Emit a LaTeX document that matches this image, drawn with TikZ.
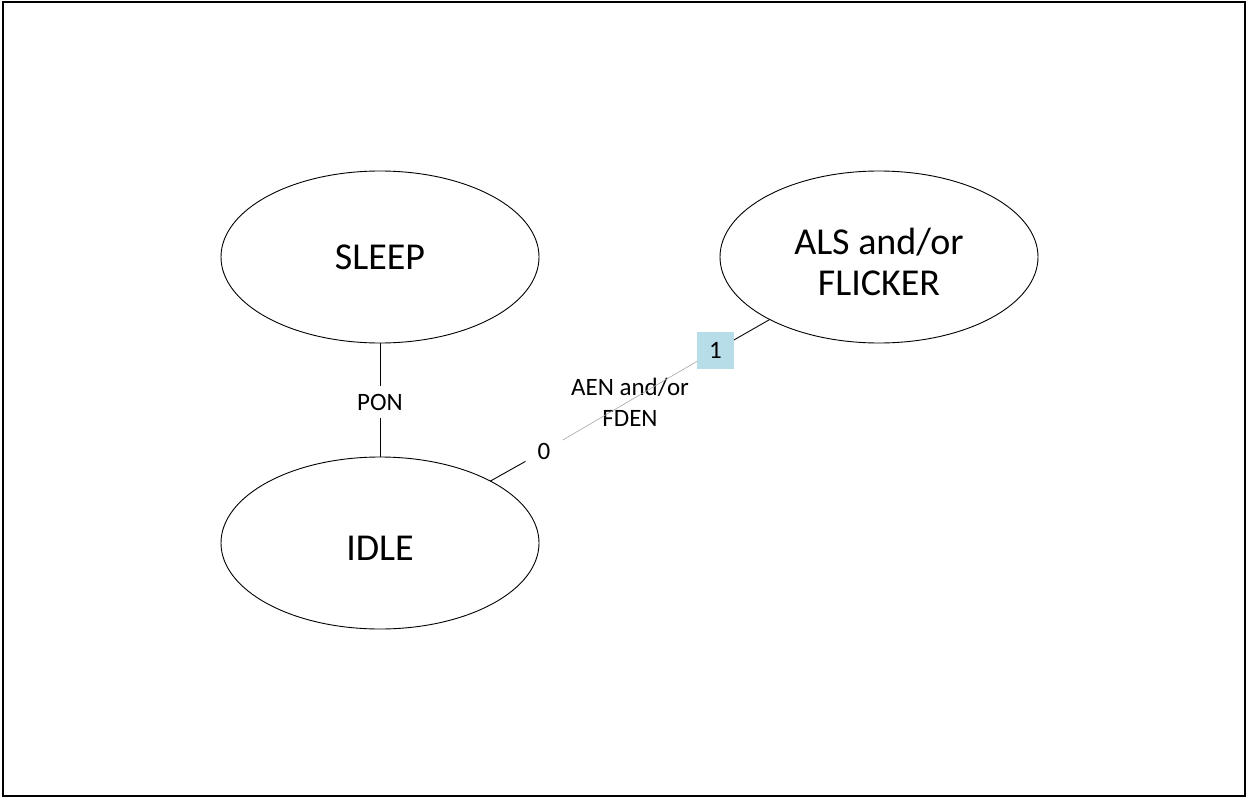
\documentclass[tikz,border=0pt]{standalone}
\usepackage{fontspec}
\setmainfont{Carlito}
\usepackage{xcolor}
\usepackage{tikz}
\usetikzlibrary{shapes.geometric}
\definecolor{tagblue}{RGB}{183,221,232}

\begin{document}
\begin{tikzpicture}[x=1pt, y=-1pt,
    state/.style={draw, ellipse, minimum width=318pt, minimum height=172pt,
        inner sep=0pt, outer sep=0pt, line width=0.9pt, align=center,
        font=\fontsize{38}{41}\selectfont},
    lbl/.style={align=center, font=\fontsize{25}{31}\selectfont},
    tag/.style={lbl, minimum width=37pt, minimum height=37pt, inner sep=0pt, outer sep=0pt}]
                \useasboundingbox (0,0) rectangle (1246,797);
                \draw[line width=2pt] (3,2) rectangle (1244.5,795.5);
                \node[state] (sleep) at (380,257) {SLEEP};
                \node[state, text height=34pt, text depth=0pt] (idle) at (380,543) {IDLE};
                \node[state, text height=77pt] (als) at (879,257) {ALS and/or\\FLICKER};
                \node[lbl, fill=white, minimum height=32pt, inner sep=0pt] (pon) at (380,402) {PON};
                \node[tag, fill=white] (zero) at (544,451) {0};
                \node[tag, fill=tagblue] (one) at (715.5,350.5) {1};
                \node[lbl] (cond) at (630,402) {AEN and/or\\FDEN};
                \draw[line width=0.9pt] (sleep) -- (pon) -- (idle);
                \draw[line width=0.9pt] (idle) -- (zero);
                \draw[line width=0.6pt, gray!70] (zero) -- (one);
                \draw[line width=0.9pt] (one) -- (als);
            \end{tikzpicture}
\end{document}
